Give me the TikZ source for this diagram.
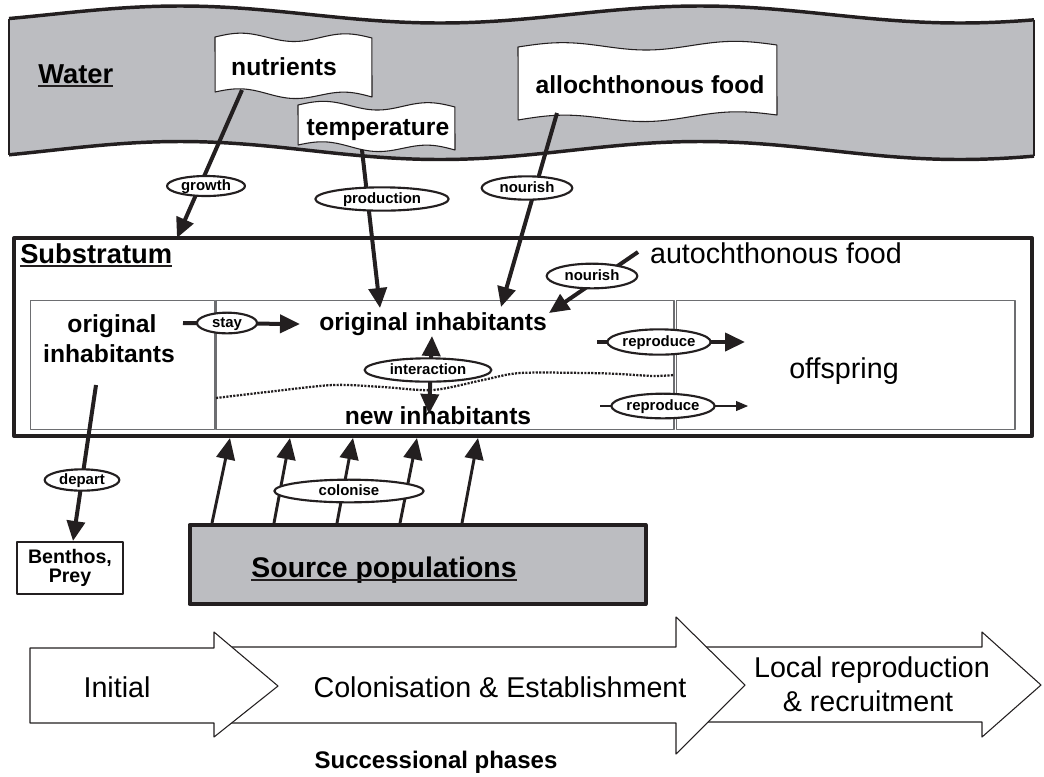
\documentclass[tikz,border=0pt]{standalone}
\usepackage{fontspec}
\setmainfont{Liberation Sans}
\usetikzlibrary{arrows.meta,shapes.geometric}
\definecolor{band}{HTML}{BCBDC1}
\definecolor{ink}{HTML}{231F20}
\definecolor{thinbox}{HTML}{6D6E71}
\newcommand\flagshape[6]{%
  \filldraw[fill=white, draw=ink, line width=0.8pt]
   plot[domain=0:1,samples=60,smooth,variable=\q] ({#1+(#2-#1)*\q},{#3+(#4-#3)*\q-4*sin(540*\q)})
   -- plot[domain=1:0,samples=60,smooth,variable=\q] ({#1+(#2-#1)*\q},{#5+(#6-#5)*\q-4*sin(540*\q)}) -- cycle;}
\begin{document}
\begin{tikzpicture}[x=0.75pt,y=-0.75pt,line join=round,
  thickarrow/.style={draw=ink,line width=3pt,-{Triangle[length=15pt,width=13.5pt]}},
  colarrow/.style={draw=ink,line width=2.2pt,-{Triangle[length=16pt,width=14pt]}},
  thinarrow/.style={draw=ink,line width=0.8pt,-{Triangle[length=9pt,width=7.5pt]}},
  lbl/.style={ellipse,draw=ink,line width=1.6pt,fill=white,inner sep=0pt,text height=0.74em,text depth=0.06em,font=\bfseries\fontsize{11.2}{12}\selectfont},
  big/.style={font=\bfseries\fontsize{18.5}{22}\selectfont,inner sep=0pt,anchor=base},
  reg/.style={font=\fontsize{21.5}{24}\selectfont,inner sep=0pt,anchor=base},
  head/.style={font=\bfseries\fontsize{20.5}{24}\selectfont,inner sep=0pt,anchor=base west},
  phase/.style={fill=white,draw=ink,line width=0.8pt},
  inner/.style={draw=thinbox,line width=0.8pt,inner sep=0pt}]
\useasboundingbox (0,0) rectangle (1044,776);

% ---------------- Water band ----------------
\fill[band] plot[domain=9:1034,samples=90,smooth] (\x,{14.5+8.5*cos(0.692308*(\x-440))})
  -- plot[domain=1034:9,samples=90,smooth] (\x,{150.5+9*cos(0.692308*(\x-440))}) -- cycle;
\draw[ink,line width=2.6pt] plot[domain=9:1034,samples=90,smooth] (\x,{14.5+8.5*cos(0.692308*(\x-440))});
\draw[ink,line width=2.6pt] plot[domain=9:1034,samples=90,smooth] (\x,{150.5+9*cos(0.692308*(\x-440))});
\draw[ink,line width=0.8pt] (9,{14.5+8.5*cos(0.692308*(9-440))}) -- (9,{150.5+9*cos(0.692308*(9-440))});
\draw[ink,line width=0.8pt] (1034,{14.5+8.5*cos(0.692308*(1034-440))}) -- (1034,{150.5+9*cos(0.692308*(1034-440))});

\node[head] (wat) at (38,83) {Water};
\draw[ink,line width=1.8pt] ([yshift=-2.2pt]wat.base west) -- ([yshift=-2.2pt]wat.base east);

% flags
\flagshape{215}{372}{37}{38}{92}{97}
\flagshape{298}{455}{105}{107}{145}{150}
\flagshape{518}{777}{47}{45}{120}{115}
\node[big] (nutr) at (284,75) {nutrients};
\node[big] (temp) at (378,135) {temperature};
\node[big] (allo) at (650,93) {allochthonous food};

% ---------------- Substratum ----------------
\node[draw=ink,line width=3pt,minimum width=763.5pt,minimum height=148.5pt,inner sep=0pt] (sub) at (523,337) {};
\node[head] (subt) at (20,263) {Substratum};
\draw[ink,line width=1.8pt] ([yshift=-2.2pt]subt.base west) -- ([yshift=-2.2pt]subt.base east);

\node[inner,minimum width=137.5pt,minimum height=96.2pt] (box1) at (122.4,364.9) {};
\node[inner,minimum width=343.5pt,minimum height=96.2pt] (box2) at (445,364.9) {};
\node[inner,minimum width=254.2pt,minimum height=96.2pt] (box3) at (845.5,364.9) {};

\node[big] (oia) at (112,332) {original};
\node[big] (oib) at (109,362) {inhabitants};
\node[big] (oi) at (433,330) {original inhabitants};
\node[big] (ni) at (438,424) {new inhabitants};
\node[reg] (off) at (844,378) {offspring};
\node[reg] (auto) at (776,263) {autochthonous food};

\draw[ink,line width=1.7pt,dash pattern=on 1.6pt off 1pt] plot[smooth] coordinates
  {(216,398) (267,392) (333,385) (383,387) (433,390) (483,380) (520,373) (587,373) (620,374) (653,376) (674,375)};

% ---------------- Source / Benthos ----------------
\node[draw=ink,line width=1pt,minimum width=79.5pt,minimum height=39pt,inner sep=0pt] (bent) at (70,568) {};
\node[font=\bfseries\fontsize{14.7}{16}\selectfont,inner sep=0pt,anchor=base] (bent1) at (70,563) {Benthos,};
\node[font=\bfseries\fontsize{14.7}{16}\selectfont,inner sep=0pt,anchor=base] (bent2) at (70,582) {Prey};

\node[draw=ink,fill=band,line width=3pt,minimum width=342pt,minimum height=59.25pt,inner sep=0pt] (src) at (417.5,564.5) {};
\node[head,anchor=base,font=\bfseries\fontsize{21.3}{24}\selectfont] (srct) at (384,577) {Source populations};
\draw[ink,line width=1.8pt] ([yshift=-2.2pt]srct.base west) -- ([yshift=-2.2pt]srct.base east);

% ---------------- coordinates ----------------
\coordinate (nutrOut) at (242,90);  \coordinate (subTop) at (177,238);
\coordinate (tempOut) at (362,150); \coordinate (oiTopA) at (380,308);
\coordinate (alloOut) at (557,113); \coordinate (oiTopB) at (501,307);
\coordinate (autoOut) at (638,252); \coordinate (oiRight) at (549,313);
\coordinate (stayS) at (183,323);   \coordinate (stayE) at (300,324);
\coordinate (iUp) at (432,336);     \coordinate (iDn) at (429,414);
\coordinate (r1s) at (597,342);     \coordinate (r1e) at (745,342);
\coordinate (r2s) at (600,406);     \coordinate (r2e) at (748,406);
\coordinate (dS) at (96,385);       \coordinate (dE) at (73,541);
\coordinate (c1s) at (212,523); \coordinate (c1e) at (230,438);
\coordinate (c2s) at (274,523); \coordinate (c2e) at (290,438);
\coordinate (c3s) at (337,523); \coordinate (c3e) at (353,438);
\coordinate (c4s) at (400,523); \coordinate (c4e) at (417,438);
\coordinate (c5s) at (462,523); \coordinate (c5e) at (478,438);

% ---------------- connectors ----------------
\draw[thickarrow] (nutrOut) -- (subTop);
\draw[thickarrow] (tempOut) -- (oiTopA);
\draw[thickarrow] (alloOut) -- (oiTopB);
\draw[thickarrow] (autoOut) -- (oiRight);
\draw[thickarrow] (stayS) -- (stayE);
\draw[draw=ink,line width=3pt,{Triangle[length=15pt,width=13.5pt]}-{Triangle[length=15pt,width=13.5pt]}] (iUp) -- (iDn);
\draw[thickarrow] (r1s) -- (r1e);
\draw[thinarrow] (r2s) -- (r2e);
\draw[thickarrow] (dS) -- (dE);
\foreach \i in {1,...,5} { \draw[colarrow] (c\i s) -- (c\i e); }

% ---------------- labels ----------------
\node[lbl,minimum width=58.5pt,minimum height=15pt] (lgrowth) at (206,186) {growth};
\node[lbl,minimum width=100pt,minimum height=17.5pt] (lprod) at (382,199) {production};
\node[lbl,minimum width=68pt,minimum height=17.5pt] (lnour1) at (527,188) {nourish};
\node[lbl,minimum width=68pt,minimum height=18.5pt] (lnour2) at (592,276) {nourish};
\node[lbl,minimum width=45pt,minimum height=15.5pt] (lstay) at (227,323) {stay};
\node[lbl,minimum width=95pt,minimum height=17.5pt] (linter) at (428,370) {interaction};
\node[lbl,minimum width=74pt,minimum height=19pt] (lrep1) at (659,342) {reproduce};
\node[lbl,minimum width=68pt,minimum height=18.5pt] (lrep2) at (663,406) {reproduce};
\node[lbl,minimum width=56pt,minimum height=16pt] (ldep) at (82,480) {depart};
\node[lbl,minimum width=112pt,minimum height=17pt] (lcol) at (349,491) {colonise};

% ---------------- successional phases ----------------
\filldraw[phase] (690,647) -- (982,647) -- (982,632) -- (1041,685) -- (982,737) -- (982,722) -- (690,722) -- cycle;
\filldraw[phase] (222,647) -- (676,647) -- (676,617) -- (745,685) -- (676,754) -- (676,723) -- (222,723) -- cycle;
\filldraw[phase] (30,648) -- (214,648) -- (214,632) -- (278,686) -- (214,737) -- (214,723) -- (30,723) -- cycle;
\node[reg] (ph1) at (117,697) {Initial};
\node[reg] (ph2) at (500,697) {Colonisation \& Establishment};
\node[reg] (ph3a) at (872,677) {Local reproduction};
\node[reg] (ph3b) at (868,711) {\& recruitment};
\node[font=\bfseries\fontsize{18}{20}\selectfont,inner sep=0pt,anchor=base] (phases) at (436,768) {Successional phases};
\end{tikzpicture}
\end{document}
